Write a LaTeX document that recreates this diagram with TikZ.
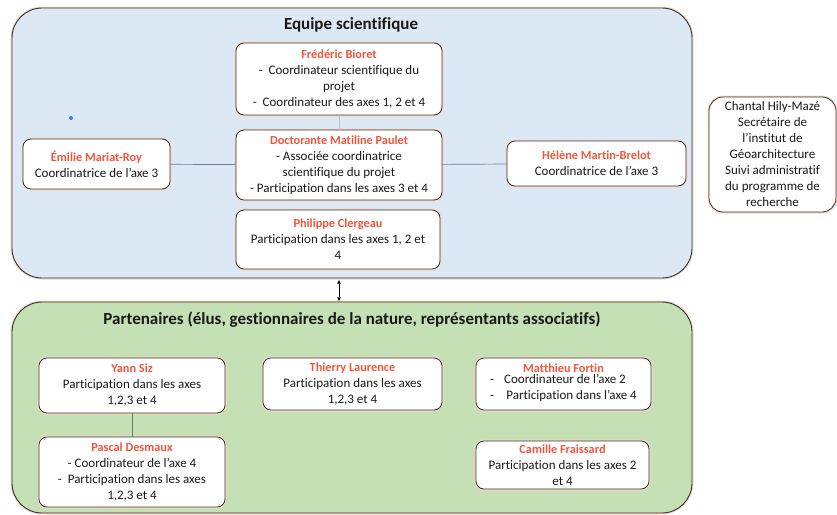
\documentclass[tikz,border=0pt]{standalone}
\usepackage{fontspec}
\setmainfont{Carlito}[Ligatures={NoCommon}]
\usetikzlibrary{arrows.meta,calc}
\definecolor{nred}{RGB}{240,85,60}
\definecolor{bluefill}{RGB}{220,233,245}
\definecolor{greenfill}{RGB}{197,224,180}
\definecolor{glow}{RGB}{250,215,195}
\definecolor{linkblue}{RGB}{110,130,150}
\definecolor{linkgreen}{RGB}{100,130,90}
\definecolor{dotblue}{RGB}{70,130,200}
\newcommand{\pname}[1]{{\color{nred}\bfseries\fontsize{12.3}{16}\selectfont #1}}
\tikzset{
  bigbox/.style={draw=black!80, line width=0.9pt, rounded corners=30pt, preaction={draw=glow, line width=3pt}},
  person/.style={draw=black!80, line width=0.8pt, fill=white, rounded corners=8pt, align=center,
     inner sep=0pt, font=\fontsize{13}{16}\selectfont, text=black!90,
     preaction={draw=glow, line width=3pt}},
  bigtitle/.style={font=\bfseries\fontsize{17}{20}\selectfont, text=black!90, inner sep=0pt},
  link/.style={draw=linkblue, line width=0.7pt},
}
\begin{document}
\begin{tikzpicture}[x=1pt,y=-1pt]
\useasboundingbox (0,0) rectangle (837,514);
% big containers
\draw[bigbox, fill=bluefill] (12,8) rectangle (692,278);
\node[inner sep=0pt, minimum width=680pt, minimum height=270pt] (blue) at (352,143) {};
\draw[bigbox, fill=greenfill] (12,302) rectangle (692,513);
\node[inner sep=0pt, minimum width=680pt, minimum height=211pt] (green) at (352,407.5) {};
\node[bigtitle] (t1) at (351,25) {Equipe scientifique};
\node[bigtitle] (t2) at (352,320) {Partenaires (élus, gestionnaires de la nature, représentants associatifs)};
% stray dot
\fill[dotblue] (71,118) circle (2pt);
% equipe
\node[person, minimum width=206pt, minimum height=72pt] (fred) at (339,79)
  {\pname{Frédéric Bioret}\\-\ \ Coordinateur scientifique du\\projet\\-\ \ Coordinateur des axes 1, 2 et 4};
\node[person, minimum width=206pt, minimum height=70pt] (doct) at (339,165)
  {\pname{Doctorante Matiline Paulet}\\- Associée coordinatrice\\scientifique du projet\\- Participation dans les axes 3 et 4};
\node[person, minimum width=204pt, minimum height=59pt] (phil) at (338,239.5)
  {\pname{Philippe Clergeau}\\Participation dans les axes 1, 2 et\\4};
\node[person, minimum width=147pt, minimum height=50pt] (emil) at (96.5,164)
  {\pname{Émilie Mariat-Roy}\\Coordinatrice de l’axe 3};
\node[person, minimum width=179pt, minimum height=45pt] (hele) at (596.5,163.5)
  {\pname{Hélène Martin-Brelot}\\Coordinatrice de l’axe 3};
\node[person, rounded corners=14pt, minimum width=127pt, minimum height=115pt] (chan) at (772.5,154.5)
  {Chantal Hily-Mazé\\Secrétaire de\\l’institut de\\Géoarchitecture\\Suivi administratif\\du programme de\\recherche};
% links equipe
\draw[link, draw=black!25] (fred) -- (doct);
\draw[link] (emil) -- (doct);
\draw[link] (doct) -- (hele);
% partenaires
\node[person, minimum width=186pt, minimum height=55pt] (yann) at (132,385.5)
  {\pname{Yann Siz}\\Participation dans les axes\\1,2,3 et 4};
\node[person, minimum width=186pt, minimum height=70pt] (pasc) at (132,472)
  {\pname{Pascal Desmaux}\\- Coordinateur de l’axe 4\\-\ \ Participation dans les axes\\1,2,3 et 4};
\node[person, minimum width=179pt, minimum height=52pt] (thie) at (352.5,384)
  {\pname{Thierry Laurence}\\Participation dans les axes\\1,2,3 et 4};
\node[person, minimum width=175pt, minimum height=52pt] (matt) at (563.5,384)
  {\pname{Matthieu Fortin}\\[-1pt]\begin{tabular}{@{}l@{\hspace{10pt}}l@{}}-&Coordinateur de l’axe 2\\-&\,Participation dans l’axe 4\end{tabular}};
\node[person, minimum width=173pt, minimum height=48pt] (cami) at (562.5,465)
  {\pname{Camille Fraissard}\\Participation dans les axes 2\\et 4};
\draw[link, draw=linkgreen] (yann) -- (pasc);
% arrow between groups
\draw[black, line width=0.4pt, {Triangle[length=3.5pt,width=3.5pt]}-{Triangle[length=3.5pt,width=3.5pt]}]
  ($(blue.south -| fred.south)+(0,2)$) -- ($(green.north -| fred.south)+(0,-1)$);
\end{tikzpicture}
\end{document}
